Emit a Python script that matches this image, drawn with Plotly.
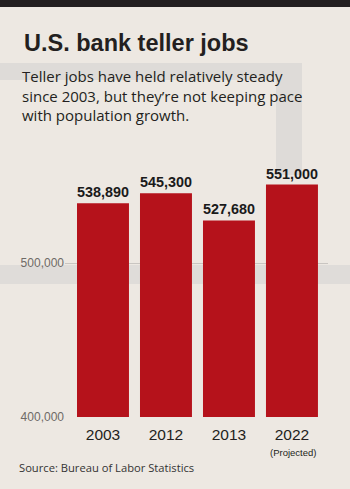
import plotly.graph_objects as go

years = ["2003", "2012", "2013", "2022"]
jobs = [538890, 545300, 527680, 551000]
bar_text = ["538,890", "545,300", "527,680", "551,000"]
projected_label = "(Projected)"
y_ticks = [400000, 500000]
y_tick_labels = ["400,000", "500,000"]

W, H = 350, 489
X0, X1, YT, YB = 65, 328, 163, 417

def px(x):
    return (x - X0) / (X1 - X0)

def py(y):
    return (YB - y) / (YB - YT)

LS = "Liberation Sans, Arial, sans-serif"
BODY = "Open Sans, Noto Sans, sans-serif"

fig = go.Figure(go.Bar(
    x=years, y=jobs, text=bar_text, textposition="outside",
    textfont=dict(family=LS, size=14.5, color="#1a1a1a", weight="bold"),
    marker=dict(color="#b5121b", line=dict(width=0)),
    cliponaxis=False, hoverinfo="skip",
))

shapes = [
    dict(type="rect", xref="paper", yref="paper", x0=px(0), x1=px(W), y0=py(7), y1=py(0),
         fillcolor="#231f20", line=dict(width=0), layer="below"),
    dict(type="rect", xref="paper", yref="paper", x0=px(0), x1=px(302), y0=py(80), y1=py(63),
         fillcolor="#dedbd8", line=dict(width=0), layer="below"),
    dict(type="rect", xref="paper", yref="paper", x0=px(276), x1=px(302), y0=py(175), y1=py(63),
         fillcolor="#dedbd8", line=dict(width=0), layer="below"),
    dict(type="rect", xref="paper", yref="paper", x0=px(0), x1=px(W), y0=py(284), y1=py(265),
         fillcolor="#dfdcd9", line=dict(width=0), layer="below"),
]

annotations = [
    dict(text="U.S. bank teller jobs", xref="paper", yref="paper", x=px(22), y=py(43),
         xanchor="left", yanchor="middle", showarrow=False,
         font=dict(family=LS, size=23.5, color="#231f20", weight="bold")),
    dict(text="Teller jobs have held relatively steady<br>since 2003, but they\u2019re not keeping pace<br>with population growth.",
         xref="paper", yref="paper", x=px(20), y=py(64), xanchor="left", yanchor="top",
         align="left", showarrow=False,
         font=dict(family=BODY, size=15, color="#231f20")),
    dict(text=projected_label, xref="paper", yref="paper", x=px(292.5), y=py(452),
         xanchor="center", yanchor="middle", showarrow=False,
         font=dict(family=LS, size=9.5, color="#231f20")),
    dict(text="Source: Bureau of Labor Statistics", xref="paper", yref="paper",
         x=px(17), y=py(467), xanchor="left", yanchor="middle", showarrow=False,
         font=dict(family=BODY, size=11.2, color="#333333")),
]

fig.update_layout(
    width=W, height=H,
    margin=dict(l=X0, r=W - X1, t=YT, b=H - YB),
    paper_bgcolor="#ede8e2", plot_bgcolor="rgba(0,0,0,0)",
    showlegend=False, bargap=0.175,
    shapes=shapes, annotations=annotations,
    xaxis=dict(type="category", tickvals=years, ticktext=years, range=[-0.603, 3.572],
               showgrid=False, zeroline=False, showline=False, ticks="",
               ticklabelstandoff=6,
               tickfont=dict(family=LS, size=15.5, color="#231f20")),
    yaxis=dict(range=[400000, 565000], tickvals=y_ticks, ticktext=y_tick_labels,
               showgrid=True, gridcolor="#c9c5c1", gridwidth=1, zeroline=False,
               showline=False, ticks="",
               tickfont=dict(family=LS, size=12, color="#6e6a66")),
)

fig.write_html("out.html")
